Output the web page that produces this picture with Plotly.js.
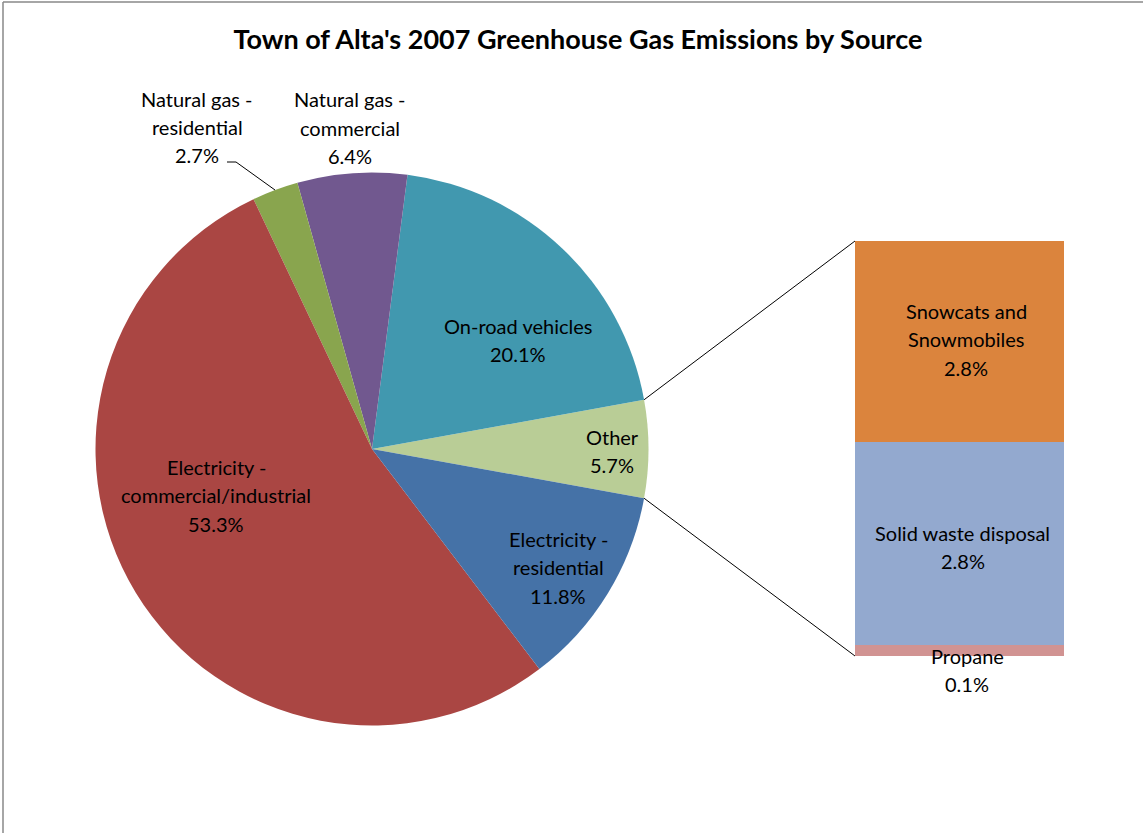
<!DOCTYPE html>
<html>
<head>
<meta charset="utf-8">
<script src="https://cdn.plot.ly/plotly-3.0.1.min.js"></script>
<style>
html,body{margin:0;padding:0;background:#fff;}
#chart{width:1143px;height:833px;}
</style>
</head>
<body>
<div id="chart"></div>
<script>
// ---- data ----
const categories = ['Other', 'On-road vehicles', 'Natural gas - commercial', 'Natural gas - residential', 'Electricity - commercial/industrial', 'Electricity - residential'];
const values = [5.7, 20.1, 6.4, 2.7, 53.3, 11.8];
const pieColors = ['#B9CD96', '#4198AF', '#71588F', '#89A54E', '#AA4643', '#4572A7'];
const pieLabelLines = [['Other'], ['On-road vehicles'], ['Natural gas -', 'commercial'], ['Natural gas -', 'residential'], ['Electricity -', 'commercial/industrial'], ['Electricity -', 'residential']];

const otherCategories = ['Propane', 'Solid waste disposal', 'Snowcats and Snowmobiles'];
const otherValues = [0.149, 2.79, 2.76];
const otherColors = ['#D19392', '#93A9CF', '#DB843D'];
const otherLabelLines = [['Propane'], ['Solid waste disposal'], ['Snowcats and', 'Snowmobiles']];

const titleText = "Town of Alta's 2007 Greenhouse Gas Emissions by Source";

// ---- layout geometry (pixels) ----
const W = 1143, H = 833;
const pieC = {x: 372, y: 449}, pieR = 276.5;
const barBox = {x0: 855, x1: 1064, y0: 241, y1: 656};
const pieLabelPos = [[612, 451], [518, 340], [350, 128], [197, 127], [216, 495], [558, 567]];
const otherLabelPos = [[967, 670], [963, 547], [966, 339]];
const lineGap = 28.5;
const FONT = 'Lato, "Open Sans", sans-serif';

const px = x => x / W;
const py = y => 1 - y / H;

const total = values.reduce((a, b) => a + b, 0);
const rotation = 90 - values[0] / total * 180;

const traces = [{
  type: 'pie',
  labels: categories,
  values: values,
  sort: false,
  direction: 'counterclockwise',
  rotation: rotation,
  marker: {colors: pieColors, line: {width: 0}},
  textinfo: 'none',
  hoverinfo: 'skip',
  showlegend: false,
  domain: {x: [px(pieC.x - pieR), px(pieC.x + pieR)], y: [py(pieC.y + pieR), py(pieC.y - pieR)]}
}];
otherCategories.forEach((name, i) => {
  traces.push({
    type: 'bar',
    x: [0],
    y: [otherValues[i]],
    name: name,
    marker: {color: otherColors[i], line: {width: 0}},
    width: 1,
    hoverinfo: 'skip',
    showlegend: false,
    xaxis: 'x',
    yaxis: 'y'
  });
});

const annotations = [];
function addLabel(lines, x, y) {
  const n = lines.length;
  lines.forEach((t, k) => {
    annotations.push({
      xref: 'paper', yref: 'paper',
      x: px(x), y: py(y + (k - (n - 1) / 2) * lineGap),
      xanchor: 'center', yanchor: 'middle',
      text: t, showarrow: false,
      font: {family: FONT, size: 20, color: '#000'}
    });
  });
}
categories.forEach((c, i) => {
  addLabel(pieLabelLines[i].concat([values[i].toFixed(1) + '%']), pieLabelPos[i][0], pieLabelPos[i][1]);
});
otherCategories.forEach((c, i) => {
  addLabel(otherLabelLines[i].concat([otherValues[i].toFixed(1) + '%']), otherLabelPos[i][0], otherLabelPos[i][1]);
});

// connector lines from the edges of the "Other" slice to the bar corners
const halfOther = values[0] / total * Math.PI;
const topPt = {x: pieC.x + pieR * Math.cos(halfOther), y: pieC.y - pieR * Math.sin(halfOther)};
const botPt = {x: pieC.x + pieR * Math.cos(halfOther), y: pieC.y + pieR * Math.sin(halfOther)};

function seg(x0, y0, x1, y1, color, width) {
  return {type: 'line', xref: 'paper', yref: 'paper', x0: px(x0), y0: py(y0), x1: px(x1), y1: py(y1), line: {color: color, width: width}};
}
const shapes = [
  seg(topPt.x, topPt.y, barBox.x0, barBox.y0, '#000', 1),
  seg(botPt.x, botPt.y, barBox.x0, barBox.y1, '#000', 1),
  // leader line for "Natural gas - residential"
  seg(227, 162, 236, 162, '#000', 1),
  seg(236, 162, 275, 190, '#000', 1),
  // chart area border (top and left visible)
  seg(3, 2, W, 2, '#888', 1.5),
  seg(3, 2, 3, H, '#888', 1.5)
];

const otherTotal = otherValues.reduce((a, b) => a + b, 0);

const layout = {
  width: W, height: H,
  margin: {l: 0, r: 0, t: 0, b: 0},
  paper_bgcolor: '#fff', plot_bgcolor: 'rgba(0,0,0,0)',
  title: {
    text: '<b>' + titleText + '</b>',
    font: {family: FONT, size: 27, color: '#000'},
    x: px(578), xanchor: 'center', xref: 'paper',
    y: py(40), yanchor: 'middle', yref: 'paper'
  },
  barmode: 'stack',
  bargap: 0,
  xaxis: {domain: [px(barBox.x0), px(barBox.x1)], range: [-0.5, 0.5], visible: false, fixedrange: true},
  yaxis: {domain: [py(barBox.y1), py(barBox.y0)], range: [0, otherTotal], visible: false, fixedrange: true},
  showlegend: false,
  annotations: annotations,
  shapes: shapes
};

Plotly.newPlot('chart', traces, layout, {staticPlot: true, displayModeBar: false});
</script>
</body>
</html>
